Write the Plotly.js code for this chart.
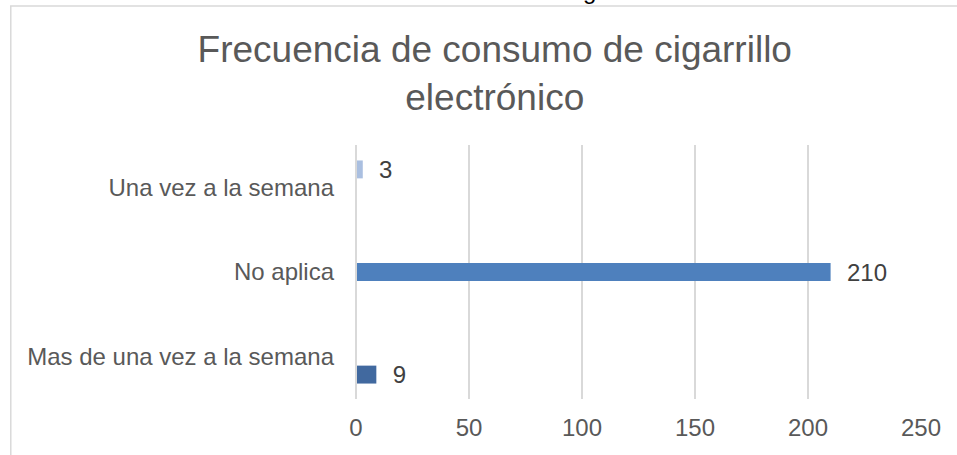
<!DOCTYPE html>
<html>
<head>
<meta charset="utf-8">
<script src="https://cdn.plot.ly/plotly-3.0.1.min.js"></script>
<style>
  html, body { margin: 0; padding: 0; background: #ffffff; overflow: hidden; }
  #chart { width: 957px; height: 455px; }
</style>
</head>
<body>
<div id="chart"></div>
<script>
// Data
const categories = ["Mas de una vez a la semana", "No aplica", "Una vez a la semana"];
const seriesMasDeUna = [9, null, null];
const seriesNoAplica = [null, 210, null];
const seriesUnaVez = [null, null, 3];
const seriesColors = ["#41699f", "#4e80bd", "#aabfe0"];
const xTickValues = [0, 50, 100, 150, 200, 250];
const titleText = "Frecuencia de consumo de cigarrillo<br>electrónico";
const topFragment = "g";

const font = "Liberation Sans, Arial, sans-serif";
const seriesList = [seriesMasDeUna, seriesNoAplica, seriesUnaVez];

const traces = seriesList.map((vals, i) => ({
  type: "bar",
  orientation: "h",
  y: categories,
  x: vals,
  marker: { color: seriesColors[i] },
  text: vals.map(v => v === null ? "" : "  " + v),
  textposition: "outside",
  constraintext: "none",
  cliponaxis: false,
  textfont: { family: font, size: 24, color: "#404040" },
  hoverinfo: "skip",
  showlegend: false
}));

const layout = {
  width: 957,
  height: 455,
  paper_bgcolor: "#ffffff",
  plot_bgcolor: "#ffffff",
  barmode: "group",
  bargap: 0.365,
  bargroupgap: 0,
  margin: { l: 355.5, r: 36, t: 144.5, b: 55.5, pad: 0 },
  title: {
    text: titleText,
    x: 0.517,
    xref: "container",
    xanchor: "center",
    y: 0.864,
    yref: "container",
    yanchor: "top",
    font: { family: font, size: 37, color: "#595959" }
  },
  xaxis: {
    range: [0, 250],
    tickvals: xTickValues,
    ticktext: xTickValues.map(String),
    showgrid: true,
    gridcolor: "#d9d9d9",
    gridwidth: 1.5,
    zeroline: false,
    showline: false,
    ticks: "",
    ticklabelstandoff: 12,
    tickfont: { family: font, size: 24, color: "#595959" },
    fixedrange: true
  },
  yaxis: {
    type: "category",
    categoryorder: "array",
    categoryarray: categories,
    showgrid: false,
    zeroline: false,
    showline: false,
    ticks: "",
    ticklabelstandoff: 21,
    tickfont: { family: font, size: 24, color: "#595959" },
    fixedrange: true
  },
  shapes: [
    {
      type: "line", xref: "paper", yref: "paper",
      x0: 0, x1: 0, y0: 0, y1: 1,
      line: { color: "#d9d9d9", width: 2 }
    },
    {
      type: "path", xref: "paper", yref: "paper",
      path: "M -0.611 -1 L -0.611 1.547 L 2 1.547",
      line: { color: "#d9d9d9", width: 1.5 }
    }
  ],
  annotations: [
    {
      text: topFragment,
      xref: "paper", yref: "paper",
      x: (589 - 355.5) / 565.5,
      y: 1 + (144.5 - 5) / 255,
      xanchor: "center", yanchor: "bottom",
      showarrow: false,
      font: { family: font, size: 24, color: "#000000" }
    }
  ]
};

Plotly.newPlot("chart", traces, layout, { displayModeBar: false, staticPlot: true });
</script>
</body>
</html>
